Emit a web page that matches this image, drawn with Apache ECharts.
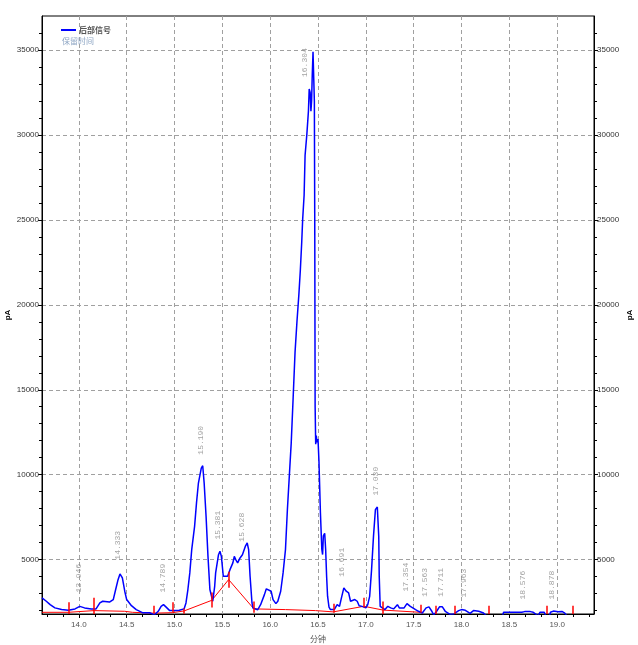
<!DOCTYPE html>
<html>
<head>
<meta charset="utf-8">
<script src="https://cdn.jsdelivr.net/npm/echarts@6/dist/echarts.min.js"></script>
<style>
  html, body { margin: 0; padding: 0; background: #fff; }
  #chart { width: 638px; height: 645px; }
</style>
</head>
<body>
<div id="chart"></div>
<script>
// 后部信号 trace: [minutes, pA]
const signal = [
  [13.615, 2750], [13.66, 2550], [13.70, 2350], [13.75, 2160], [13.82, 2060], [13.89, 2020],
  [13.96, 2100], [14.01, 2250], [14.06, 2160], [14.13, 2100], [14.18, 2100], [14.22, 2450],
  [14.25, 2550], [14.32, 2500], [14.36, 2650], [14.385, 3240], [14.41, 3820], [14.43, 4160],
  [14.455, 3920], [14.48, 3140], [14.50, 2650], [14.55, 2290], [14.60, 2060], [14.67, 1870],
  [14.74, 1870], [14.79, 1750], [14.83, 1960], [14.86, 2250], [14.885, 2350], [14.91, 2220],
  [14.95, 2000], [15.02, 2000], [15.05, 2020], [15.10, 2100], [15.12, 2450], [15.14, 3240],
  [15.16, 4220], [15.18, 5590], [15.21, 6960], [15.23, 8340], [15.25, 9510], [15.28, 10390],
  [15.295, 10530], [15.31, 9510], [15.33, 7550], [15.35, 5190], [15.37, 3240], [15.40, 2550],
  [15.42, 3430], [15.43, 4220], [15.46, 5290], [15.475, 5490], [15.49, 5190], [15.51, 4020],
  [15.53, 3920], [15.555, 4020], [15.58, 4410], [15.61, 4810], [15.625, 5190], [15.64, 5000],
  [15.66, 4810], [15.685, 5100], [15.71, 5290], [15.74, 5780], [15.76, 5980], [15.775, 5590],
  [15.79, 4020], [15.81, 2450], [15.82, 2150], [15.87, 2050], [15.90, 2350], [15.94, 2940],
  [15.96, 3280], [15.98, 3240], [16.01, 3140], [16.03, 2650], [16.06, 2410], [16.08, 2550],
  [16.11, 3140], [16.135, 4220], [16.16, 5590], [16.18, 7940], [16.20, 9900], [16.22, 11860],
  [16.24, 14500], [16.26, 17200], [16.28, 19000], [16.30, 20600], [16.315, 22000], [16.33, 23700],
  [16.34, 25060], [16.355, 26460], [16.365, 28800], [16.383, 30000], [16.40, 31400], [16.408, 32700],
  [16.418, 32500], [16.426, 31400], [16.433, 32000], [16.44, 33540], [16.448, 34900], [16.458, 34900],
  [16.462, 32000], [16.466, 25000], [16.470, 14000], [16.476, 11800], [16.482, 12300], [16.49, 11900],
  [16.50, 12100], [16.51, 10800], [16.525, 7800], [16.54, 5600], [16.548, 5300], [16.556, 6400],
  [16.57, 6550], [16.58, 5600], [16.59, 4020], [16.60, 2850], [16.615, 2200], [16.63, 2060],
  [16.67, 2060], [16.70, 2350], [16.725, 2250], [16.745, 2750], [16.77, 3340], [16.795, 3140],
  [16.82, 3040], [16.84, 2550], [16.86, 2550], [16.885, 2650], [16.91, 2550], [16.93, 2290],
  [16.96, 2250], [17.0, 2160], [17.02, 2350], [17.04, 2840], [17.06, 4410], [17.08, 6370],
  [17.10, 7940], [17.12, 8100], [17.135, 6370], [17.14, 4020], [17.15, 2250], [17.17, 2160],
  [17.20, 2060], [17.23, 2250], [17.26, 2160], [17.29, 2100], [17.33, 2350], [17.35, 2160],
  [17.40, 2160], [17.43, 2410], [17.465, 2250], [17.52, 2060], [17.55, 1960], [17.59, 1860],
  [17.63, 2160], [17.66, 2220], [17.69, 1960], [17.71, 1750], [17.74, 1960], [17.77, 2220],
  [17.80, 2220], [17.83, 1960], [17.88, 1780], [17.92, 1800], [17.94, 1880], [17.97, 2000],
  [18.0, 2060], [18.04, 2020], [18.09, 1840], [18.125, 2000], [18.18, 1960], [18.23, 1860],
  [18.26, 1700], [18.43, 1700], [18.44, 1900], [18.63, 1900], [18.66, 1940], [18.72, 1940],
  [18.75, 1900], [18.80, 1700], [18.82, 1900], [18.865, 1900], [18.88, 1700], [18.92, 1700],
  [18.93, 1900], [18.96, 1970], [19.01, 1930], [19.05, 1950], [19.08, 1850], [19.10, 1700]
];

// integration baseline
const baseline = [
  [13.615, 1900], [13.89, 1900], [13.89, 1940], [14.16, 2000], [14.48, 1960], [14.56, 1900],
  [14.78, 1850], [14.98, 1880], [14.98, 1960], [15.10, 1980], [15.39, 2606], [15.566, 3824],
  [15.83, 2100], [16.16, 2060], [16.475, 2000], [16.66, 1925], [16.98, 2255], [17.18, 2030],
  [17.57, 1900], [17.60, 1860]
];

// peak start/end markers
const markX  = [13.89, 14.16, 14.78, 14.98, 15.10, 15.39, 15.566, 15.83, 16.66, 16.98, 17.18, 17.57, 17.73, 17.93, 18.28, 18.89, 19.16];
const markLo = [1800, 1800, 1850, 1870, 1820, 2180, 3350, 1870, 1870, 2180, 1800, 1870, 1800, 1800, 1800, 1800, 1800];
const markHi = [2490, 2760, 2290, 2490, 2120, 3060, 4290, 2530, 2410, 2760, 2530, 2350, 2290, 2290, 2290, 2290, 2290];

// retention time labels: text, x, bottom of text
const peakNames = ['13.946', '14.333', '14.789', '15.190', '15.381', '15.628', '16.304', '16.691',
                   '17.030', '17.354', '17.563', '17.711', '17.963', '18.576', '18.878'];
const peakX = [14.0, 14.406, 14.875, 15.271, 15.458, 15.708, 16.365, 16.75,
               17.104, 17.417, 17.615, 17.781, 18.02, 18.646, 18.948];
const peakY = [3060, 5000, 3060, 11180, 6180, 6060, 33410, 4000,
               8770, 3120, 2820, 2820, 2770, 2650, 2650];

const xMajor = [14.0, 14.5, 15.0, 15.5, 16.0, 16.5, 17.0, 17.5, 18.0, 18.5, 19.0];
const yMajor = [5000, 10000, 15000, 20000, 25000, 30000, 35000];
const xMin = 13.615, xMax = 19.385, yMin = 1800, yMax = 37000;

const xMinor = [];
for (let i = 82; i <= 116; i++) {
  if (i % 3 !== 0) xMinor.push(+(i / 6).toFixed(4));
}
const yMinor = [];
for (let v = 2000; v <= 36000; v += 1000) {
  if (v % 5000 !== 0) yMinor.push(v);
}

let chart = echarts.init(document.getElementById('chart'));

const axisFont = { fontSize: 8, color: '#333', fontFamily: 'Liberation Sans' };
const dash = { color: '#a0a0a0', type: [4, 3], width: 1 };

chart.setOption({
  animation: false,
  title: {
    text: '保留时间',
    left: 57,
    top: 32,
    textStyle: { fontSize: 8, fontWeight: 'normal', color: '#8ea6c4', fontFamily: 'Noto Sans CJK SC' }
  },
  legend: {
    left: 56,
    top: 21,
    itemWidth: 15,
    itemHeight: 2,
    data: [{ name: '后部信号', icon: 'rect' }],
    textStyle: { fontSize: 8, fontWeight: 'bold', color: '#555', fontFamily: 'Noto Sans CJK SC', padding: [0, 0, 0, -2] }
  },
  grid: {
    left: 42, right: 44, top: 16, bottom: 31,
    outerBoundsMode: 'none',
    containLabel: false,
    show: true, borderColor: '#000', borderWidth: 1
  },
  xAxis: [
    {
      type: 'value', min: xMin, max: xMax, position: 'bottom',
      name: '分钟', nameLocation: 'middle', nameGap: 21, nameMoveOverlap: false,
      nameTextStyle: { fontSize: 8, color: '#555', fontFamily: 'Noto Sans CJK SC' },
      axisLine: { lineStyle: { color: '#000' } },
      axisTick: { customValues: xMajor, length: 4, lineStyle: { color: '#000' } },
      axisLabel: { customValues: xMajor, margin: 7, formatter: v => v.toFixed(1), ...axisFont, color: '#555' },
      splitLine: { show: true, lineStyle: dash }
    },
    {
      type: 'value', min: xMin, max: xMax, position: 'bottom',
      axisLine: { show: false },
      axisTick: { customValues: xMinor, length: 3, lineStyle: { color: '#000' } },
      axisLabel: { show: false },
      splitLine: { show: false }
    }
  ],
  yAxis: [
    {
      type: 'value', min: yMin, max: yMax, position: 'left',
      name: 'pA', nameLocation: 'middle', nameGap: 30, nameRotate: 90, nameMoveOverlap: false,
      nameTextStyle: { fontSize: 8, color: '#000', fontWeight: 'bold' },
      axisLine: { show: true, lineStyle: { color: '#000' } },
      axisTick: { show: true, customValues: yMajor, length: 4, lineStyle: { color: '#000' } },
      axisLabel: { customValues: yMajor, margin: 3, formatter: v => String(v), ...axisFont },
      splitLine: { show: true, lineStyle: dash }
    },
    {
      type: 'value', min: yMin, max: yMax, position: 'right',
      name: 'pA', nameLocation: 'middle', nameGap: 32, nameRotate: 90, nameMoveOverlap: false,
      nameTextStyle: { fontSize: 8, color: '#000', fontWeight: 'bold' },
      axisLine: { show: true, lineStyle: { color: '#000' } },
      axisTick: { show: true, customValues: yMajor, length: 4, lineStyle: { color: '#000' } },
      axisLabel: { customValues: yMajor, margin: 3, formatter: v => String(v), ...axisFont },
      splitLine: { show: false }
    },
    {
      type: 'value', min: yMin, max: yMax, position: 'left',
      axisLine: { show: false },
      axisTick: { show: true, customValues: yMinor, length: 3, lineStyle: { color: '#000' } },
      axisLabel: { show: false },
      splitLine: { show: false }
    },
    {
      type: 'value', min: yMin, max: yMax, position: 'right',
      axisLine: { show: false },
      axisTick: { show: true, customValues: yMinor, length: 3, lineStyle: { color: '#000' } },
      axisLabel: { show: false },
      splitLine: { show: false }
    }
  ],
  series: [
    {
      name: 'baseline',
      type: 'line',
      data: baseline,
      showSymbol: false,
      clip: true,
      lineStyle: { color: '#ff0000', width: 1 },
      itemStyle: { color: '#ff0000' },
      markLine: {
        symbol: 'none',
        silent: true,
        label: { show: false },
        lineStyle: { color: '#ff0000', type: 'solid', width: 1.5 },
        data: markX.map((x, i) => [{ coord: [x, markLo[i]] }, { coord: [x, markHi[i]] }])
      }
    },
    {
      name: '后部信号',
      type: 'line',
      data: signal,
      showSymbol: false,
      clip: true,
      lineStyle: { color: '#0000ff', width: 1.5 },
      itemStyle: { color: '#0000ff' }
    },
    {
      name: 'labels',
      type: 'scatter',
      symbolSize: 0,
      silent: true,
      data: peakNames.map((t, i) => [peakX[i], peakY[i], t]),
      label: {
        show: true,
        position: 'inside',
        formatter: p => p.value[2],
        rotate: 90,
        align: 'left',
        verticalAlign: 'middle',
        fontSize: 8,
        fontFamily: 'Liberation Mono',
        color: '#8a8a8a'
      }
    }
  ]
});
</script>
</body>
</html>
